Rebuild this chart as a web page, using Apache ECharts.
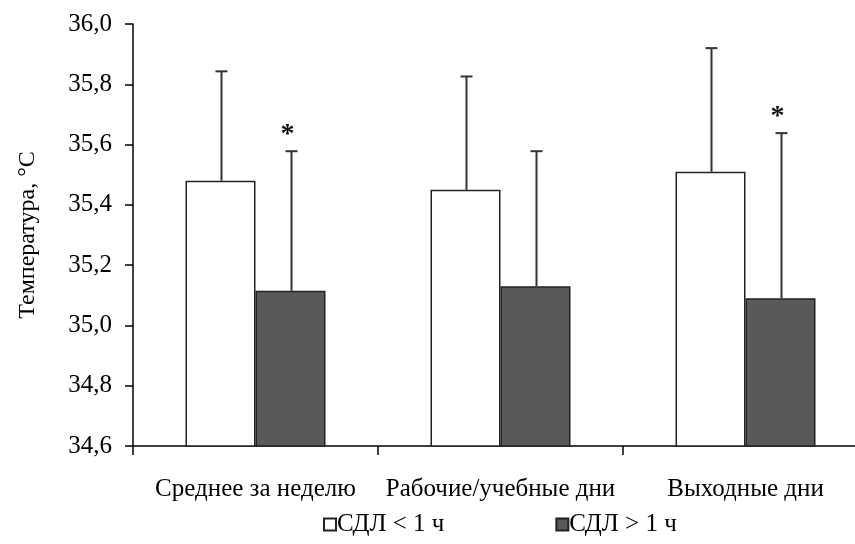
<!DOCTYPE html>
<html><head><meta charset="utf-8">
<script src="https://cdn.jsdelivr.net/npm/echarts@6/dist/echarts.min.js"></script>
<style>html,body{margin:0;padding:0;background:#fff;overflow:hidden}#c{width:870px;height:544px}</style>
</head><body><div id="c"></div>
<script>
const categories = ['Среднее за неделю', 'Рабочие/учебные дни', 'Выходные дни'];
const seriesNames = ['СДЛ < 1 ч', 'СДЛ > 1 ч'];
const meanLow = [35.48, 35.45, 35.51];
const meanHigh = [35.115, 35.13, 35.09];
const errTopLow = [35.843, 35.826, 35.92];
const errTopHigh = [35.578, 35.578, 35.638];
const starHigh = [true, false, true];
const yTicks = { min: 34.6, max: 36.0, interval: 0.2 };

const FONT = '"Liberation Serif", "Times New Roman", serif';
const BW = 70;

const errData = [];
categories.forEach((c, i) => {
  errData.push([i, meanLow[i], errTopLow[i], -1, 0]);
  errData.push([i, meanHigh[i], errTopHigh[i], 1, starHigh[i] ? 1 : 0]);
});

const chart = echarts.init(document.getElementById('c'));
chart.setOption({
  animation: false,
  backgroundColor: '#fff',
  grid: { left: 133, top: 24, width: 735, height: 422, containLabel: false },
  legend: {
    left: 318, top: 507, itemGap: 111, itemWidth: 12, itemHeight: 12, icon: 'rect',
    textStyle: { fontFamily: FONT, fontSize: 25, color: '#000', padding: [0, 0, 0, -4] },
    data: seriesNames
  },
  xAxis: {
    type: 'category', data: categories,
    axisLine: { lineStyle: { color: '#000', width: 1.5 } },
    axisTick: { show: true, length: 9, lineStyle: { color: '#000', width: 1.5 } },
    axisLabel: { fontFamily: FONT, fontSize: 25, color: '#000', margin: 31, interval: 0, hideOverlap: false }
  },
  yAxis: {
    type: 'value', min: yTicks.min, max: yTicks.max, interval: yTicks.interval,
    name: 'Температура, °С', nameLocation: 'middle', nameGap: 93, nameRotate: 90,
    nameTextStyle: { fontFamily: FONT, fontSize: 24, color: '#000' },
    axisLine: { show: true, lineStyle: { color: '#000', width: 1.5 } },
    axisTick: { show: true, length: 8, lineStyle: { color: '#000', width: 1.5 } },
    splitLine: { show: false },
    axisLabel: { fontFamily: FONT, fontSize: 25, color: '#000', margin: 21,
      formatter: v => v.toFixed(1).replace('.', ',') }
  },
  series: [
    { name: seriesNames[0], type: 'bar', data: meanLow, barWidth: BW, barGap: '0%',
      itemStyle: { color: '#fff', borderColor: '#222', borderWidth: 1.5 } },
    { name: seriesNames[1], type: 'bar', data: meanHigh, barWidth: BW,
      itemStyle: { color: '#595959', borderColor: '#222', borderWidth: 1.5 } },
    { type: 'custom', data: errData, z: 10,
      renderItem: (params, api) => {
        const idx = api.value(0), side = api.value(3);
        const p0 = api.coord([idx, api.value(1)]);
        const p1 = api.coord([idx, api.value(2)]);
        const x = p0[0] + side * BW / 2 + 1;
        const children = [
          { type: 'line', shape: { x1: x, y1: p0[1], x2: x, y2: p1[1] },
            style: { stroke: '#333', lineWidth: 2 } },
          { type: 'line', shape: { x1: x - 6, y1: p1[1], x2: x + 6, y2: p1[1] },
            style: { stroke: '#333', lineWidth: 2 } }
        ];
        if (api.value(4)) {
          children.push({ type: 'text', style: { text: '*', x: x - 4, y: p1[1] - 16,
            fill: '#111', font: 'bold 28px ' + FONT, align: 'center', verticalAlign: 'middle' } });
        }
        return { type: 'group', children };
      } }
  ]
});
</script></body></html>
